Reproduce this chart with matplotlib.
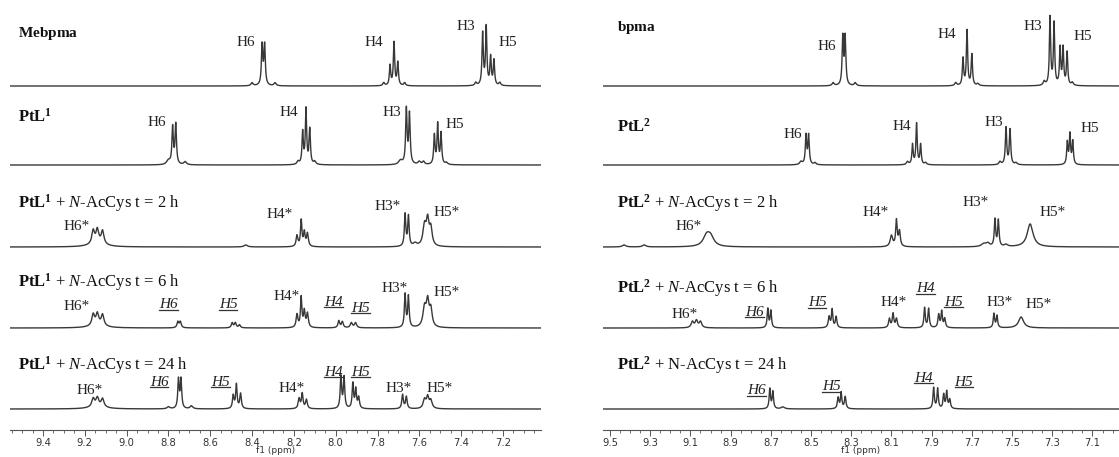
import numpy as np
import matplotlib
matplotlib.use("Agg")
import matplotlib.pyplot as plt
from matplotlib.ticker import MultipleLocator, FormatStrFormatter

plt.rcParams["font.family"] = "Liberation Serif"
plt.rcParams["mathtext.fontset"] = "custom"
plt.rcParams["mathtext.rm"] = "Liberation Serif"
plt.rcParams["mathtext.it"] = "Liberation Serif:italic"
plt.rcParams["mathtext.bf"] = "Liberation Serif:bold"

# ---------------------------------------------------------------------------
# Peak tables: (shift / ppm, intensity, FWHM / ppm). Intensity in plot units.
# ---------------------------------------------------------------------------
MEBPMA = [(8.400, 3, 0.012), (8.352, 40, 0.008), (8.340, 40, 0.008), (8.290, 3, 0.012),
          (7.770, 3, 0.010), (7.740, 20, 0.0075), (7.721, 43, 0.0075), (7.703, 23, 0.0075),
          (7.670, 3, 0.010), (7.330, 3, 0.010), (7.297, 52, 0.0075), (7.280, 58, 0.0075),
          (7.259, 28, 0.0075), (7.243, 25, 0.0075), (7.215, 3, 0.010)]
PTL1 = [(8.800, 4, 0.020), (8.780, 37, 0.008), (8.765, 40, 0.008), (8.720, 3, 0.015),
        (8.180, 3, 0.012), (8.158, 32, 0.0075), (8.142, 55, 0.0075), (8.124, 35, 0.0075),
        (8.100, 3, 0.012), (7.690, 4, 0.020), (7.662, 55, 0.008), (7.647, 50, 0.008),
        (7.600, 3, 0.015), (7.580, 3, 0.012), (7.528, 29, 0.0075), (7.512, 40, 0.0075),
        (7.496, 31, 0.0075), (7.470, 2, 0.012)]
PTL1_2H = [(9.140, 4, 0.080), (9.160, 13, 0.015), (9.140, 13, 0.015), (9.115, 13, 0.015),
           (8.430, 2, 0.020), (8.185, 11, 0.010), (8.165, 26, 0.008), (8.150, 14, 0.009),
           (8.135, 13, 0.010), (7.668, 32, 0.008), (7.652, 30, 0.008), (7.620, 3, 0.020),
           (7.575, 20, 0.018), (7.560, 24, 0.015), (7.545, 17, 0.015)]
PTL1_6H = [(9.140, 3, 0.080), (9.160, 11, 0.015), (9.140, 11, 0.015), (9.115, 11, 0.015),
           (8.755, 6, 0.010), (8.743, 6, 0.010), (8.495, 5, 0.010), (8.480, 5, 0.010),
           (8.460, 3, 0.010), (8.185, 13, 0.010), (8.165, 30, 0.008), (8.150, 16, 0.009),
           (8.135, 14, 0.010), (7.985, 7, 0.010), (7.968, 6, 0.010), (7.925, 5, 0.012),
           (7.905, 5, 0.012), (7.668, 33, 0.008), (7.652, 31, 0.008), (7.575, 19, 0.018),
           (7.560, 24, 0.015), (7.545, 17, 0.015)]
PTL1_24H = [(9.140, 3, 0.080), (9.160, 8, 0.015), (9.140, 8, 0.015), (9.115, 8, 0.015),
            (8.800, 2, 0.015), (8.752, 29, 0.008), (8.740, 29, 0.008), (8.690, 3, 0.015),
            (8.490, 13, 0.009), (8.475, 24, 0.008), (8.455, 15, 0.009), (8.175, 10, 0.010),
            (8.160, 15, 0.009), (8.140, 9, 0.010), (7.975, 32, 0.008), (7.960, 31, 0.008),
            (7.918, 25, 0.008), (7.904, 19, 0.008), (7.890, 11, 0.009), (7.680, 14, 0.009),
            (7.662, 12, 0.009), (7.575, 9, 0.015), (7.560, 11, 0.013), (7.545, 8, 0.015)]

BPMA = [(8.390, 3, 0.012), (8.342, 48, 0.008), (8.330, 48, 0.008), (8.280, 3, 0.012),
        (7.780, 3, 0.012), (7.744, 27, 0.0075), (7.724, 55, 0.0075), (7.700, 31, 0.0075),
        (7.670, 2, 0.012), (7.340, 4, 0.012), (7.311, 68, 0.0075), (7.291, 62, 0.0075),
        (7.261, 37, 0.0075), (7.246, 37, 0.0075), (7.226, 33, 0.0075), (7.200, 3, 0.012)]
PTL2 = [(8.550, 3, 0.015), (8.525, 29, 0.008), (8.512, 29, 0.008), (8.480, 2, 0.012),
        (8.020, 3, 0.012), (7.995, 20, 0.0075), (7.975, 41, 0.0075), (7.955, 20, 0.0075),
        (7.930, 2, 0.012), (7.560, 3, 0.012), (7.530, 37, 0.008), (7.510, 35, 0.008),
        (7.480, 2, 0.012), (7.225, 22, 0.0075), (7.212, 30, 0.0075), (7.198, 23, 0.0075)]
PTL2_2H = [(9.430, 2, 0.020), (9.330, 2, 0.020), (9.020, 10, 0.040), (9.000, 9, 0.040),
           (8.100, 11, 0.015), (8.075, 26, 0.009), (8.060, 15, 0.010), (7.640, 3, 0.030),
           (7.620, 3, 0.020), (7.585, 27, 0.008), (7.568, 26, 0.008), (7.530, 2, 0.020),
           (7.410, 23, 0.035)]
PTL2_6H = [(9.090, 6, 0.015), (9.070, 7, 0.015), (9.050, 6, 0.015), (8.715, 19, 0.008),
           (8.700, 17, 0.008), (8.410, 11, 0.010), (8.395, 18, 0.008), (8.375, 11, 0.009),
           (8.110, 9, 0.010), (8.092, 14, 0.009), (8.075, 9, 0.010), (7.935, 20, 0.008),
           (7.915, 19, 0.008), (7.865, 13, 0.009), (7.850, 16, 0.008), (7.835, 9, 0.009),
           (7.590, 14, 0.008), (7.575, 12, 0.008), (7.455, 11, 0.030)]
PTL2_24H = [(8.705, 20, 0.008), (8.690, 17, 0.008), (8.640, 2, 0.020), (8.365, 11, 0.009),
            (8.350, 16, 0.008), (8.330, 12, 0.009), (7.890, 21, 0.008), (7.870, 20, 0.008),
            (7.840, 14, 0.008), (7.825, 17, 0.008), (7.810, 9, 0.009)]

LEFT_SPECTRA = [MEBPMA, PTL1, PTL1_2H, PTL1_6H, PTL1_24H]
RIGHT_SPECTRA = [BPMA, PTL2, PTL2_2H, PTL2_6H, PTL2_24H]

LEFT_TITLES = [r"$\mathbf{Mebpma}$", r"$\mathbf{PtL}^{\mathbf{1}}$",
               r"$\mathbf{PtL}^{\mathbf{1}}$ + $\mathit{N}$-AcCys t = 2 h",
               r"$\mathbf{PtL}^{\mathbf{1}}$ + $\mathit{N}$-AcCys t = 6 h",
               r"$\mathbf{PtL}^{\mathbf{1}}$ + $\mathit{N}$-AcCys t = 24 h"]
RIGHT_TITLES = [r"$\mathbf{bpma}$", r"$\mathbf{PtL}^{\mathbf{2}}$",
                r"$\mathbf{PtL}^{\mathbf{2}}$ + $\mathit{N}$-AcCys t = 2 h",
                r"$\mathbf{PtL}^{\mathbf{2}}$ + $\mathit{N}$-AcCys t = 6 h",
                r"$\mathbf{PtL}^{\mathbf{2}}$ + N-AcCys t = 24 h"]
TITLE_SIZES = [11, 12, 12, 12, 12]

# Assignment labels: (text, shift, height px from top, underlined)
LEFT_LABELS = [
    [("H6", 8.43, 43, False), ("H4", 7.816, 43, False), ("H3", 7.376, 27, False),
     ("H5", 7.175, 43, False)],
    [("H6", 8.855, 122, False), ("H4", 8.225, 113, False), ("H3", 7.73, 113, False),
     ("H5", 7.43, 124, False)],
    [("H6*", 9.24, 226, False), ("H4*", 8.27, 215, False), ("H3*", 7.75, 207, False),
     ("H5*", 7.47, 212, False)],
    [("H6*", 9.24, 307, False), ("H6", 8.80, 305, True), ("H5", 8.515, 305, True),
     ("H4*", 8.235, 297, False), ("H4", 8.01, 302, True), ("H5", 7.88, 308, True),
     ("H3*", 7.72, 288, False), ("H5*", 7.47, 293, False)],
    [("H6*", 9.175, 390, False), ("H6", 8.845, 382, True), ("H5", 8.55, 382, True),
     ("H4*", 8.21, 388, False), ("H4", 8.01, 372, True), ("H5", 7.88, 372, True),
     ("H3*", 7.70, 388, False), ("H5*", 7.505, 388, False)],
]
RIGHT_LABELS = [
    [("H6", 8.42, 47, False), ("H4", 7.826, 35, False), ("H3", 7.395, 27, False),
     ("H5", 7.147, 37, False)],
    [("H6", 8.59, 135, False), ("H4", 8.047, 127, False), ("H3", 7.59, 123, False),
     ("H5", 7.115, 128, False)],
    [("H6*", 9.11, 227, False), ("H4*", 8.18, 213, False), ("H3*", 7.68, 203, False),
     ("H5*", 7.30, 213, False)],
    [("H6*", 9.13, 315, False), ("H6", 8.78, 312, True), ("H5", 8.47, 303, True),
     ("H4*", 8.09, 302, False), ("H4", 7.93, 289, True), ("H5", 7.79, 302, True),
     ("H3*", 7.56, 302, False), ("H5*", 7.37, 305, False)],
    [("H6", 8.77, 391, True), ("H5", 8.40, 387, True), ("H4", 7.94, 378, True),
     ("H5", 7.74, 382, True)],
]

# ---------------------------------------------------------------------------
# Layout (pixels of a 1119 x 457 canvas)
# ---------------------------------------------------------------------------
W, H = 1119, 457
AX_BOTTOM = 430                      # axis line, px from top
BASELINES = [86, 165, 247, 328, 409]  # spectrum baselines, px from top
LEFT_PX, RIGHT_PX = (10, 541), (603, 1119)
LEFT_LIM, RIGHT_LIM = (9.558, 7.018), (9.535, 6.968)
TITLE_X = (18, 617)
LEFT_TITLE_Y = [33, 117, 203, 282, 365]
RIGHT_TITLE_Y = [28, 127, 203, 288, 365]

LINE = "#383838"


def lorentz_sum(x, peaks):
    y = np.zeros_like(x)
    for ppm, h, w in peaks:
        y += h / (1.0 + ((x - ppm) / (w / 2.0)) ** 2)
    return y


fig = plt.figure(figsize=(W / 100, H / 100), dpi=100)


def make_panel(px, lim, spectra, labels, titles, title_y, title_x, major_offset):
    ax = fig.add_axes([px[0] / W, (H - AX_BOTTOM) / H, (px[1] - px[0]) / W, AX_BOTTOM / H])
    x = np.linspace(lim[1], lim[0], 8000)
    for peaks, base in zip(spectra, BASELINES):
        ax.plot(x, AX_BOTTOM - base + lorentz_sum(x, peaks), color=LINE, lw=1.0)
    ax.set_xlim(*lim)
    ax.set_ylim(0, AX_BOTTOM)
    for s in ("top", "left", "right"):
        ax.spines[s].set_visible(False)
    ax.spines["bottom"].set_color("#555555")
    ax.spines["bottom"].set_linewidth(0.8)
    ax.set_yticks([])
    ax.xaxis.set_major_locator(MultipleLocator(0.2, offset=major_offset))
    ax.xaxis.set_minor_locator(MultipleLocator(0.05))
    ax.xaxis.set_major_formatter(FormatStrFormatter("%.1f"))
    ax.tick_params(axis="x", which="major", length=4, width=0.7, color="#555555",
                   labelsize=7.2, labelcolor="#333333", pad=1.5)
    ax.tick_params(axis="x", which="minor", length=2, width=0.6, color="#555555")
    for lab in ax.get_xticklabels():
        lab.set_fontfamily("DejaVu Sans")
    ax.set_xlabel("f1 (ppm)", fontsize=6.5, family="DejaVu Sans", color="#333333",
                  labelpad=-1.0)

    under = []
    for row in labels:
        for text, ppm, ypx, ul in row:
            t = ax.text(ppm, AX_BOTTOM - ypx, text, ha="center", va="center",
                        fontsize=11, color="#222222", style="italic" if ul else "normal")
            if ul:
                under.append(t)
    for title, ty, fs in zip(titles, title_y, TITLE_SIZES):
        fig.text(title_x / W, 1 - ty / H, title, ha="left", va="center",
                 fontsize=fs, color="#111111")
    return ax, under


axl, ul_l = make_panel(LEFT_PX, LEFT_LIM, LEFT_SPECTRA, LEFT_LABELS, LEFT_TITLES,
                       LEFT_TITLE_Y, TITLE_X[0], 0.0)
axr, ul_r = make_panel(RIGHT_PX, RIGHT_LIM, RIGHT_SPECTRA, RIGHT_LABELS, RIGHT_TITLES,
                       RIGHT_TITLE_Y, TITLE_X[1], 0.1)

# underline the italic product assignments
fig.canvas.draw()
renderer = fig.canvas.get_renderer()
for ax, texts in ((axl, ul_l), (axr, ul_r)):
    inv = ax.transData.inverted()
    for t in texts:
        bb = t.get_window_extent(renderer)
        (x0, y0), (x1, _) = inv.transform([(bb.x0, bb.y0 + 1.5), (bb.x1, bb.y0)])
        ax.plot([x0, x1], [y0, y0], color="#333333", lw=0.9, clip_on=False)

fig.savefig("out.png", dpi=100)
